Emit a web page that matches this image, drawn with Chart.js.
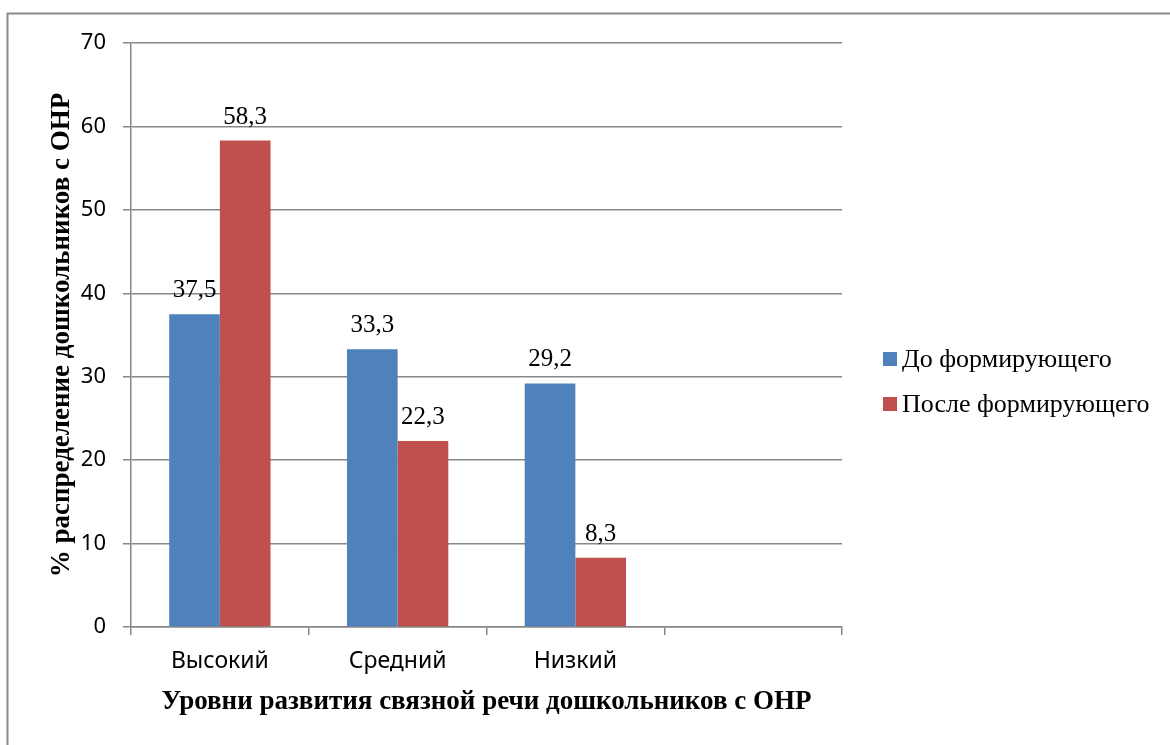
<!DOCTYPE html>
<html lang="ru">
<head>
<meta charset="utf-8">
<title>Уровни развития связной речи дошкольников с ОНР</title>
<script src="https://cdn.jsdelivr.net/npm/chart.js@4.4.1/dist/chart.umd.min.js"></script>
<style>
  html, body { margin: 0; padding: 0; background: #fff; }
  #chart { display: block; }
</style>
</head>
<body>
<canvas id="chart" width="1170" height="745"></canvas>
<script>
// Levels of speech development (the last slot is an empty category)
const levels = ['Высокий', 'Средний', 'Низкий', ''];
const beforeValues = [37.5, 33.3, 29.2, null];
const afterValues = [58.3, 22.3, 8.3, null];
const seriesNames = ['До формирующего', 'После формирующего'];
const yTicks = [0, 10, 20, 30, 40, 50, 60, 70];

const BLUE = '#4F81BD';
const RED = '#C0504D';
const GRID = '#878787';
const SERIF = '"Liberation Serif", "Times New Roman", serif';
const SANS = '"Noto Sans", "Open Sans", sans-serif';

// Grey frame around the whole chart
const framePlugin = {
    id: 'frame',
    beforeDraw(chart) {
        const ctx = chart.ctx;
        ctx.save();
        ctx.strokeStyle = '#8a8a8a';
        ctx.lineWidth = 2;
        ctx.beginPath();
        ctx.moveTo(7.5, chart.height);
        ctx.lineTo(7.5, 13.5);
        ctx.lineTo(chart.width, 13.5);
        ctx.stroke();
        ctx.restore();
    }
};

// Value above each bar, with a comma as decimal separator
const valueLabels = {
    id: 'valueLabels',
    afterDatasetsDraw(chart) {
        const ctx = chart.ctx;
        ctx.save();
        ctx.font = '25px ' + SERIF;
        ctx.fillStyle = '#000';
        ctx.textAlign = 'center';
        ctx.textBaseline = 'alphabetic';
        chart.data.datasets.forEach((ds, i) => {
            chart.getDatasetMeta(i).data.forEach((bar, j) => {
                const v = ds.data[j];
                if (v === null || v === undefined) return;
                ctx.fillText(v.toFixed(1).replace('.', ','), bar.x, bar.y - 17);
            });
        });
        ctx.restore();
    }
};

// Legend on the right side
const sideLegend = {
    id: 'sideLegend',
    afterDraw(chart) {
        const ctx = chart.ctx;
        const x = chart.chartArea.right + 41;
        const rows = [367, 412];
        ctx.save();
        ctx.font = '26px ' + SERIF;
        ctx.textAlign = 'left';
        ctx.textBaseline = 'alphabetic';
        chart.data.datasets.forEach((ds, i) => {
            ctx.fillStyle = ds.backgroundColor;
            ctx.fillRect(x, rows[i] - 15, 14, 14);
            ctx.fillStyle = '#000';
            ctx.fillText(ds.label, x + 19, rows[i]);
        });
        ctx.restore();
    }
};

new Chart(document.getElementById('chart'), {
    type: 'bar',
    data: {
        labels: levels,
        datasets: [
            { label: seriesNames[0], data: beforeValues, backgroundColor: BLUE },
            { label: seriesNames[1], data: afterValues, backgroundColor: RED }
        ]
    },
    options: {
        responsive: false,
        animation: false,
        layout: { padding: { top: 43, right: 328, bottom: 0, left: 0 } },
        datasets: {
            bar: { categoryPercentage: 0.57, barPercentage: 1.0 }
        },
        plugins: {
            legend: { display: false },
            tooltip: { enabled: false }
        },
        scales: {
            x: {
                afterFit(scale) { scale.height = 118; },
                grid: {
                    offset: true,
                    drawOnChartArea: false,
                    drawTicks: true,
                    tickLength: 8,
                    color: GRID,
                    lineWidth: 1.5
                },
                border: { display: true, color: GRID, width: 1.5 },
                ticks: {
                    color: '#000',
                    font: { family: SANS, size: 23 },
                    padding: 13,
                    maxRotation: 0
                },
                title: {
                    display: true,
                    text: 'Уровни развития связной речи дошкольников с ОНР',
                    color: '#000',
                    font: { family: SERIF, size: 27, weight: 'bold' },
                    padding: { top: 0, bottom: 27 }
                }
            },
            y: {
                min: yTicks[0],
                max: yTicks[yTicks.length - 1],
                afterFit(scale) { scale.width = 131; },
                grid: {
                    color: GRID,
                    lineWidth: 1.5,
                    tickLength: 8
                },
                border: { display: true, color: GRID, width: 1.5 },
                ticks: {
                    stepSize: yTicks[1] - yTicks[0],
                    color: '#000',
                    font: { family: SANS, size: 22 },
                    padding: 17
                },
                title: {
                    display: true,
                    text: '% распределение дошкольников с ОНР',
                    color: '#000',
                    font: { family: SERIF, size: 27, weight: 'bold' },
                    padding: { top: 46, bottom: 0 }
                }
            }
        }
    },
    plugins: [framePlugin, valueLabels, sideLegend]
});
</script>
</body>
</html>
